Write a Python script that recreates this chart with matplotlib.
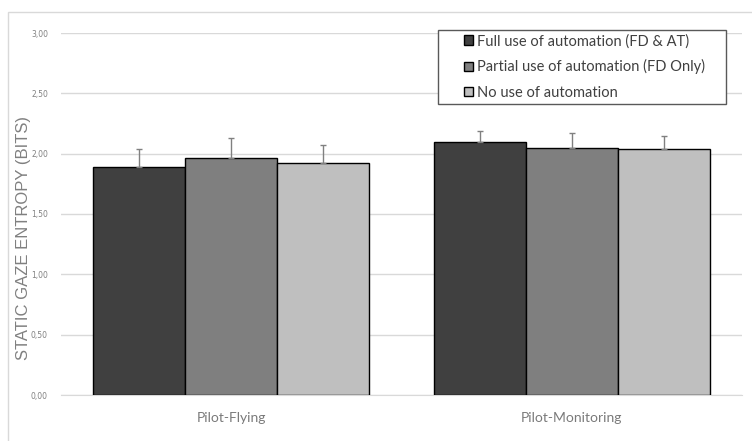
import numpy as np
import matplotlib.pyplot as plt
from matplotlib.patches import Rectangle

# mean static gaze entropy per role and automation condition
roles = ["Pilot-Flying", "Pilot-Monitoring"]
conditions = ["Full use of automation (FD & AT)",
              "Partial use of automation (FD Only)",
              "No use of automation"]
full_mean = [1.89, 2.10]
partial_mean = [1.96, 2.05]
none_mean = [1.92, 2.04]
full_err = [0.15, 0.09]
partial_err = [0.17, 0.12]
none_err = [0.15, 0.11]
yticks = [0.0, 0.5, 1.0, 1.5, 2.0, 2.5, 3.0]

colors = ["#404040", "#7f7f7f", "#bfbfbf"]
means = [full_mean, partial_mean, none_mean]
errs = [full_err, partial_err, none_err]

W, H = 752, 441
fig = plt.figure(figsize=(W / 100, H / 100), dpi=100)
# chart frame (only left and top edges fall inside the image)
fig.patches.append(Rectangle((8 / W, -0.1), 2, 1 - 12 / H + 0.1,
                             transform=fig.transFigure, fill=False,
                             edgecolor="#d9d9d9", linewidth=1))
# legend box
fig.patches.append(Rectangle((438 / W, 1 - 104 / H), 288 / W, 74 / H,
                             transform=fig.transFigure, fill=True,
                             facecolor="white", edgecolor="#595959",
                             linewidth=1, zorder=5))
ax = fig.add_axes([61 / W, 46 / H, 681 / W, 362 / H])

x = np.arange(len(roles))
width = 0.27
for i, (m, e, c, lab) in enumerate(zip(means, errs, colors, conditions)):
    pos = x + (i - 1) * width
    ax.bar(pos, m, width, color=c, edgecolor="black", linewidth=1,
           label=lab, zorder=3)
    ax.errorbar(pos, m, yerr=[np.zeros(len(e)), e], fmt="none",
                ecolor="#808080", elinewidth=1, capsize=2, capthick=1,
                zorder=4)

ax.set_xlim(-0.5, 1.5)
ax.set_ylim(0, 3.0)
ax.set_yticks(yticks)
ax.set_yticklabels([f"{v:.2f}".replace(".", ",") for v in yticks],
                   fontsize=5.5, color="#808080")
ax.set_xticks(x)
ax.set_xticklabels(roles, fontsize=10, color="#7a7a7a", family="Lato")
ax.tick_params(axis="y", length=0, pad=9.4)
ax.tick_params(axis="x", length=0, pad=12)
ax.grid(axis="y", color="#d9d9d9", linewidth=1, zorder=0)
for s in ["top", "right", "left"]:
    ax.spines[s].set_visible(False)
ax.spines["bottom"].set_color("#d9d9d9")

fig.text(24 / W, 1 - 238 / H, "STATIC GAZE ENTROPY (BITS)", rotation=90,
         ha="center", va="center", fontsize=12, color="#808080",
         family="Liberation Sans")

leg = fig.legend(*ax.get_legend_handles_labels(), loc="upper left",
                 bbox_to_anchor=(464 / W, 1 - 34 / H),
                 frameon=False, prop={"family": "Lato", "size": 10.5},
                 handlelength=0.65, handleheight=0.65, handletextpad=0.25,
                 labelspacing=0.76, borderpad=0, borderaxespad=0)
leg.set_zorder(6)
for t in leg.get_texts():
    t.set_color("#404040")
for h in leg.legend_handles:
    h.set_linewidth(1)

fig.savefig("out.png", dpi=100)
